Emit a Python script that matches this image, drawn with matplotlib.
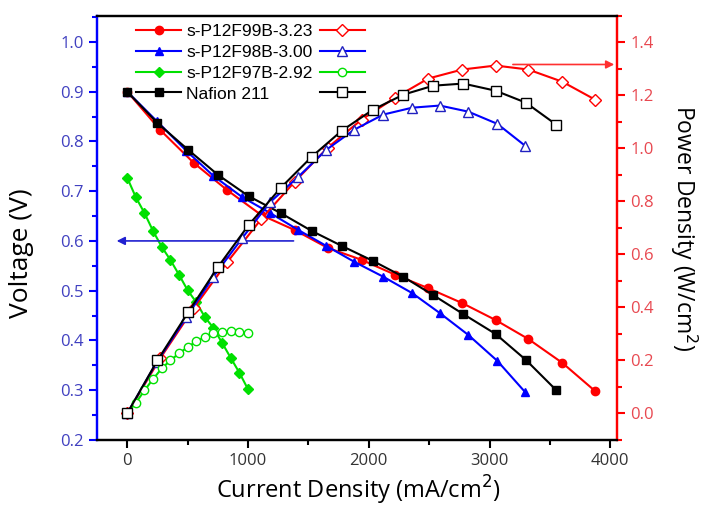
import matplotlib.pyplot as plt
from matplotlib.ticker import MultipleLocator

plt.rcParams['font.family'] = ['Open Sans', 'DejaVu Sans']

# s-P12F99B-3.23
i_99 = [0, 273, 550, 828, 1110, 1385, 1660, 1940, 2219, 2492, 2774, 3050, 3320, 3602, 3875]
v_99 = [0.90, 0.823, 0.757, 0.702, 0.652, 0.622, 0.586, 0.562, 0.532, 0.505, 0.475, 0.441, 0.403, 0.355, 0.298]
p_99 = [0.0, 0.208, 0.397, 0.571, 0.734, 0.874, 1.003, 1.109, 1.192, 1.264, 1.298, 1.313, 1.298, 1.252, 1.184]

# s-P12F98B-3.00
i_98 = [0, 244, 490, 712, 952, 1184, 1416, 1648, 1880, 2120, 2360, 2588, 2824, 3064, 3295]
v_98 = [0.90, 0.841, 0.781, 0.731, 0.688, 0.656, 0.622, 0.59, 0.558, 0.528, 0.495, 0.455, 0.411, 0.359, 0.296]
p_98 = [0.0, 0.193, 0.363, 0.515, 0.662, 0.798, 0.893, 0.995, 1.071, 1.128, 1.154, 1.162, 1.139, 1.093, 1.01]

# s-P12F97B-2.92
i_97 = [0, 71, 143, 214, 286, 357, 429, 500, 571, 643, 714, 786, 857, 929, 1000]
v_97 = [0.727, 0.688, 0.656, 0.62, 0.588, 0.562, 0.532, 0.501, 0.477, 0.447, 0.425, 0.395, 0.365, 0.335, 0.302]
p_97 = [0.0, 0.04, 0.087, 0.13, 0.17, 0.2, 0.227, 0.25, 0.272, 0.288, 0.303, 0.306, 0.31, 0.306, 0.303]

# Nafion 211
i_naf = [0, 250, 505, 750, 1005, 1270, 1528, 1776, 2033, 2285, 2534, 2782, 3050, 3300, 3552]
v_naf = [0.90, 0.837, 0.783, 0.733, 0.69, 0.656, 0.62, 0.59, 0.56, 0.528, 0.491, 0.453, 0.413, 0.361, 0.30]
p_naf = [0.0, 0.2, 0.382, 0.552, 0.711, 0.851, 0.969, 1.067, 1.146, 1.203, 1.237, 1.245, 1.218, 1.173, 1.09]

labels = ['s-P12F99B-3.23', 's-P12F98B-3.00', 's-P12F97B-2.92', 'Nafion 211']
colors = ['#ff0000', '#0000ff', '#00e000', 'black']
markers_v = ['o', '^', 'D', 's']
markers_p = ['D', '^', 'o', 's']
currents = [i_99, i_98, i_97, i_naf]
volts = [v_99, v_98, v_97, v_naf]
powers = [p_99, p_98, p_97, p_naf]

fig = plt.figure(figsize=(7.05, 5.11), dpi=100)
ax = fig.add_axes([0.1376, 0.139, 0.7376, 0.8297])
ax2 = ax.twinx()

filled, opened = [], []
for i, v, p, c, mv, mp in zip(currents, volts, powers, colors, markers_v, markers_p):
    ms = 6 if mv != 'D' else 5.5
    h1, = ax.plot(i, v, marker=mv, color=c, markersize=ms, linewidth=1.5)
    h2, = ax2.plot(i, p, marker=mp, color=c, markerfacecolor='white',
                   markeredgecolor=c if c != '#0000ff' else '#2020c0',
                   markersize=6.5 if mp != 'o' else 6, linewidth=1.5)
    filled.append(h1)
    opened.append(h2)

ax.set_xlim(-250, 4055)
ax.set_ylim(0.2, 1.052)
ax2.set_ylim(-0.1, 1.5)

ax.xaxis.set_major_locator(MultipleLocator(1000))
ax.xaxis.set_minor_locator(MultipleLocator(500))
ax.yaxis.set_major_locator(MultipleLocator(0.1))
ax.yaxis.set_minor_locator(MultipleLocator(0.05))
ax2.yaxis.set_major_locator(MultipleLocator(0.2))
ax2.yaxis.set_minor_locator(MultipleLocator(0.1))
ax.yaxis.set_major_formatter(plt.FormatStrFormatter('%.1f'))
ax2.yaxis.set_major_formatter(plt.FormatStrFormatter('%.1f'))

ax.tick_params(axis='y', which='both', direction='out', colors='#0000ff', labelcolor='#4040c0',
               labelsize=12, width=1.5)
ax.tick_params(axis='y', which='major', length=6)
ax.tick_params(axis='y', which='minor', length=3.5)
ax.tick_params(axis='x', which='both', direction='out', labelcolor='#333333', labelsize=12, width=1.5)
ax.tick_params(axis='x', which='major', length=6)
ax.tick_params(axis='x', which='minor', length=3.5)
ax2.tick_params(axis='y', which='both', direction='out', colors='#ff0000', labelcolor='#e84850',
                labelsize=12, width=1.5)
ax2.tick_params(axis='y', which='major', length=6)
ax2.tick_params(axis='y', which='minor', length=3.5)

for a in (ax, ax2):
    for sp in a.spines.values():
        sp.set_linewidth(1.6)
    a.spines['left'].set_color('#0000ff')
    a.spines['right'].set_color('#ff0000')

ax.set_xlabel('Current Density (mA/cm$^2$)', fontsize=17)
ax.xaxis.set_label_coords(0.502, -0.08)
ax.set_ylabel('Voltage (V)', fontsize=19)
ax.yaxis.set_label_coords(-0.122, 0.44)
ax2.set_ylabel('Power Density (W/cm$^2$)', fontsize=16.5, rotation=270)
ax2.yaxis.set_label_coords(1.158, 0.5)

# arrows pointing to the axes
ax.annotate('', xy=(-110, 0.6), xytext=(1400, 0.6),
            arrowprops=dict(arrowstyle='-|>', color='#2020d0', lw=1.2, mutation_scale=12))
ax2.annotate('', xy=(4055, 1.317), xytext=(3170, 1.317),
             arrowprops=dict(arrowstyle='-|>', color='#ff3030', lw=1.2, mutation_scale=12))

leg = ax.legend(filled + opened, labels + [''] * 4, ncol=2, frameon=False,
                loc='upper left', bbox_to_anchor=(0.055, 1.005),
                prop={'family': 'Liberation Sans', 'size': 12.5},
                handlelength=2.6, handletextpad=0.3, columnspacing=0.4,
                labelspacing=0.32, borderaxespad=0.2)
leg.set_zorder(5)

fig.savefig('out.png', dpi=100)
